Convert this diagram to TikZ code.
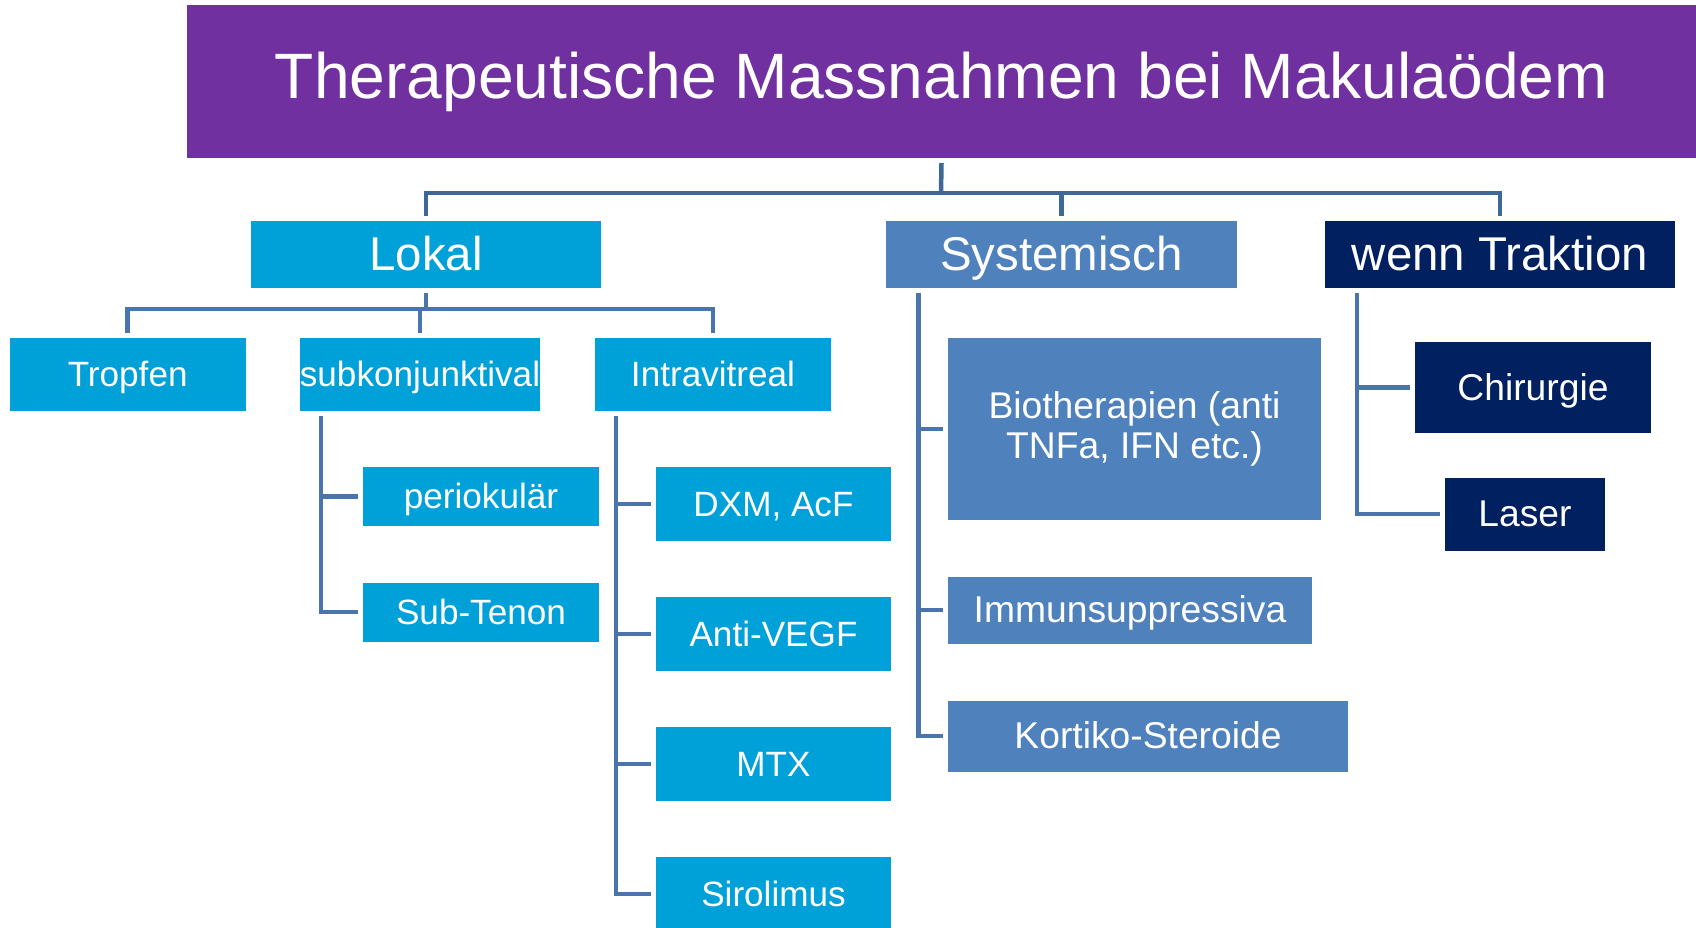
\documentclass[tikz,border=0pt]{standalone}
\usepackage{fontspec}
\setmainfont{Liberation Sans}
\usepackage{xcolor}
\usetikzlibrary{positioning,calc}

\definecolor{titlepurple}{HTML}{7030A0}
\definecolor{lokalblue}{HTML}{00A0D8}
\definecolor{sysblue}{HTML}{4F81BD}
\definecolor{navyblue}{HTML}{002060}
\definecolor{topline}{HTML}{3E6898}
\definecolor{branchline}{HTML}{4A74AC}

\tikzset{
    fsmall/.style={font=\fontsize{20}{24}\selectfont, text height=18.1pt, text depth=4.2pt},
    fmid/.style={font=\fontsize{21.2}{22.5}\selectfont, text height=19.2pt, text depth=4.5pt},
    fbig/.style={font=\fontsize{27}{32}\selectfont, text height=24.4pt, text depth=5.7pt},
    box/.style={rectangle, text=white, inner sep=0pt, outer sep=0.1cm, align=center, fsmall},
    head/.style={box, minimum width=7.02cm, minimum height=1.34cm},
    loc/.style={fill=lokalblue},
    sys/.style={fill=sysblue, fmid},
    trak/.style={fill=navyblue, fmid},
    conn/.style={draw=branchline, line width=0.09cm},
}

\begin{document}
\begin{tikzpicture}[x=0.02cm, y=-0.02cm]
    \useasboundingbox (0,0) rectangle (1696,927);

    % title
    \node[box, fill=titlepurple, minimum width=30.18cm, minimum height=3.06cm,
        text height={}, text depth={}, font=\fontsize{36.5}{42}\selectfont] (title) at (941.5,81.5) {Therapeutische Massnahmen bei Makulaödem};

    % first level
    \node[head, loc, fbig] (lokal) at (426,254.5) {Lokal};
    \node[head, sys, fbig] (systemisch) at (1061.5,254.5) {Systemisch};
    \node[head, trak, fbig] (traktion) at (1500,254.5) {wenn Traktion};

    % lokal
    \node[box, loc, minimum width=4.72cm, minimum height=1.46cm] (tropfen) at (127.7,374.3) {Tropfen};
    \node[box, loc, minimum width=4.72cm, minimum height=1.46cm] (subkonj) at (420,374.3) {subkonjunktival};
    \node[box, loc, minimum width=4.72cm, minimum height=1.46cm] (intra) at (713,374.3) {Intravitreal};

    \node[box, loc, minimum width=4.72cm, minimum height=1.18cm] (peri) at (481,496.5) {periokulär};
    \node[box, loc, minimum width=4.72cm, minimum height=1.18cm] (tenon) at (481,612) {Sub-Tenon};

    \node[box, loc, minimum width=4.72cm, minimum height=1.48cm] (dxm) at (773.5,504) {DXM, AcF};
    \node[box, loc, minimum width=4.72cm, minimum height=1.48cm] (vegf) at (773.5,634) {Anti-VEGF};
    \node[box, loc, minimum width=4.72cm, minimum height=1.48cm] (mtx) at (773.5,764) {MTX};
    \node[box, loc, minimum width=4.72cm, minimum height=1.48cm] (siro) at (773.5,894) {Sirolimus};

    % systemisch
    \node[box, sys, minimum width=7.46cm, minimum height=3.64cm, text height={}, text depth={}] (bio) at (1134.5,429) {Biotherapien (anti\\TNFa, IFN etc.)};
    \node[box, sys, minimum width=7.28cm, minimum height=1.34cm] (immun) at (1130,610) {Immunsuppressiva};
    \node[box, sys, minimum width=8cm, minimum height=1.42cm] (kortiko) at (1148,736) {Kortiko-Steroide};

    % traktion
    \node[box, trak, minimum width=4.72cm, minimum height=1.82cm] (chir) at (1533,387.5) {Chirurgie};
    \node[box, trak, minimum width=3.2cm, minimum height=1.46cm] (laser) at (1525,514) {Laser};

    % connectors
    \coordinate (bus) at (941,193);
    \draw[conn, draw=topline] (title.south) -- (bus);
    \draw[conn, draw=topline] (lokal.north) |- (bus) -| (traktion.north);
    \draw[conn, draw=topline] (systemisch.north) -- (systemisch.north |- bus);

    \coordinate (bus2) at (426,309);
    \draw[conn] (lokal.south) -- (bus2);
    \draw[conn] (tropfen.north) |- (bus2) -| (intra.north);
    \draw[conn] (subkonj.north) -- (subkonj.north |- bus2);

    \draw[conn] ([xshift=0.52cm]subkonj.south west) |- (peri.west);
    \draw[conn] ([xshift=0.52cm]subkonj.south west) |- (tenon.west);

    \foreach \n in {dxm, vegf, mtx, siro}
        \draw[conn] ([xshift=0.52cm]intra.south west) |- (\n.west);

    \foreach \n in {bio, immun, kortiko}
        \draw[conn] ([xshift=0.75cm]systemisch.south west) |- (\n.west);

    \foreach \n in {chir, laser}
        \draw[conn] ([xshift=0.75cm]traktion.south west) |- (\n.west);
\end{tikzpicture}
\end{document}
